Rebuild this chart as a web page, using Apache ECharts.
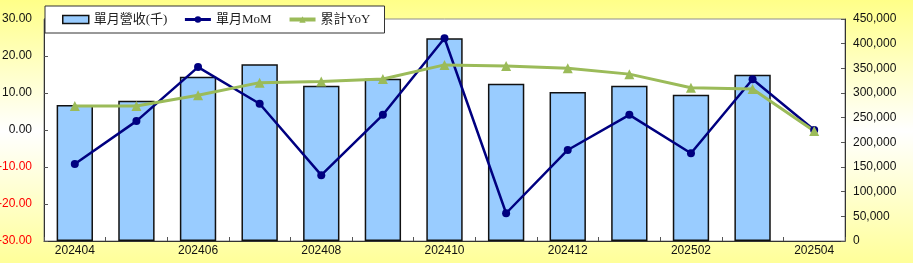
<!DOCTYPE html>
<html>
<head>
<meta charset="utf-8">
<script src="https://cdn.jsdelivr.net/npm/echarts@6/dist/echarts.min.js"></script>
<style>
  html, body { margin: 0; padding: 0; }
  #main { width: 913px; height: 263px; }
</style>
</head>
<body>
<div id="main"></div>
<script>
// 月份
var months = ['202404', '202405', '202406', '202407', '202408', '202409', '202410',
  '202411', '202412', '202501', '202502', '202503', '202504'];
// 單月營收(千)
var revenue = [275700, 284400, 333000, 358200, 314800, 329000, 410900,
  318900, 302000, 314800, 296600, 337100, null];
// 單月MoM
var mom = [-9.2, 2.4, 17.0, 7.1, -12.2, 4.1, 24.8, -22.5, -5.4, 4.1, -6.3, 13.7, 0];
// 累計YoY
var yoy = [6.5, 6.5, 9.4, 12.8, 13.1, 13.8, 17.6, 17.3, 16.7, 15.1, 11.4, 11.1, -0.3];

var myChart = echarts.init(document.getElementById('main'));
var labelFont = 'Liberation Sans, Arial, sans-serif';
var legendFont = 'Liberation Serif, Noto Sans CJK TC, serif';

var option = {
  animation: false,
  backgroundColor: {
    type: 'linear', x: 0, y: 0, x2: 0, y2: 1,
    colorStops: [
      { offset: 0, color: '#ffff88' },
      { offset: 0.5, color: '#ffffff' },
      { offset: 1, color: '#ffff99' }
    ]
  },
  grid: {
    left: 44, right: 68, top: 19, bottom: 22,
    outerBoundsMode: 'none',
    show: true, backgroundColor: '#ffffff', borderColor: '#8c8c8c', borderWidth: 1
  },
  legend: {
    left: 45, top: 6,
    padding: [7, 14, 7, 17],
    itemGap: 16,
    itemWidth: 26, itemHeight: 8,
    backgroundColor: '#ffffff',
    borderColor: '#333333', borderWidth: 1,
    textStyle: { fontFamily: legendFont, fontSize: 13, color: '#222' },
    data: [
      { name: '單月營收(千)', icon: 'rect', itemStyle: { borderWidth: 1.5, borderColor: '#111' } },
      { name: '單月MoM', lineStyle: { width: 3 } },
      { name: '累計YoY', lineStyle: { width: 4 } }
    ]
  },
  xAxis: {
    type: 'category',
    data: months,
    boundaryGap: true,
    axisLine: { onZero: false, lineStyle: { color: '#333', width: 1 } },
    axisTick: { show: true, inside: true, length: 4, interval: 0, lineStyle: { color: '#555' } },
    axisLabel: { interval: 1, margin: 4, fontFamily: labelFont, fontSize: 12, color: '#111' },
    splitLine: { show: false }
  },
  yAxis: [
    {
      type: 'value', position: 'left',
      min: -30, max: 30, interval: 10,
      axisLine: { show: true, onZero: false, lineStyle: { color: '#333' } },
      axisTick: { show: true, inside: true, length: 4, lineStyle: { color: '#555' } },
      axisLabel: {
        margin: 12, fontFamily: labelFont, fontSize: 12,
        formatter: function (v) { return v.toFixed(2); },
        color: function (v) { return Number(v) < 0 ? '#ff0000' : '#111'; }
      },
      splitLine: { show: false }
    },
    {
      type: 'value', position: 'right',
      min: 0, max: 450000, interval: 50000,
      axisLine: { show: true, onZero: false, lineStyle: { color: '#333' } },
      axisTick: { show: true, inside: true, length: 4, lineStyle: { color: '#555' } },
      axisLabel: {
        margin: 8, fontFamily: labelFont, fontSize: 12, color: '#111',
        formatter: function (v) { return v.toLocaleString('en-US'); }
      },
      splitLine: { show: false }
    }
  ],
  series: [
    {
      name: '單月營收(千)',
      type: 'bar',
      yAxisIndex: 1,
      data: revenue,
      barWidth: '59%',
      itemStyle: { color: '#99ccff', borderColor: '#111', borderWidth: 1.5 }
    },
    {
      name: '單月MoM',
      type: 'line',
      yAxisIndex: 0,
      data: mom,
      symbol: 'circle', symbolSize: 8,
      lineStyle: { color: '#000080', width: 2.5 },
      itemStyle: { color: '#000080' }
    },
    {
      name: '累計YoY',
      type: 'line',
      yAxisIndex: 0,
      data: yoy,
      symbol: 'triangle', symbolSize: 10,
      lineStyle: { color: '#9bbb59', width: 3 },
      itemStyle: { color: '#9bbb59' }
    }
  ]
};
myChart.setOption(option, true);
</script>
</body>
</html>
